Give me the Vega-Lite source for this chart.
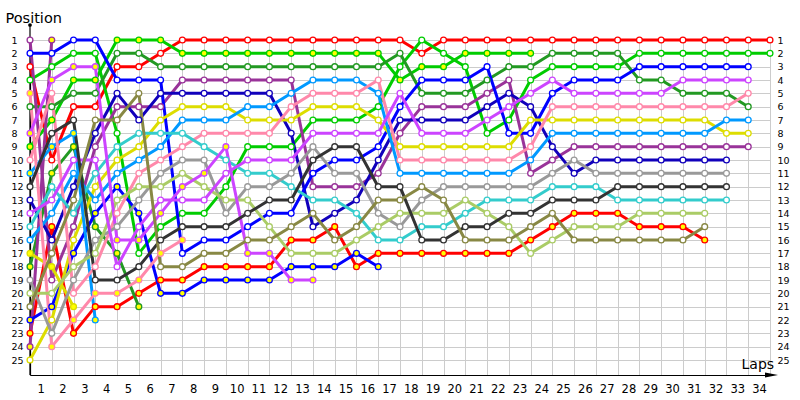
{
"$schema": "https://vega.github.io/schema/vega-lite/v6.json",
"width": 740, "height": 335,
"padding": {"left": 30, "top": 40, "right": 30, "bottom": 25},
"autosize": {"type": "none"},
"background": "white",
"config": {"view": {"stroke": null}, "font": "DejaVu Sans",
 "axis": {"labelOverlap": false},
 "axisX": {"labelOverlap": false, "labelBound": false, "labelFlush": false}},
"datasets": {"laps": [
{"d":"RW","l":0,"p":3},{"d":"RW","l":1,"p":10},{"d":"RW","l":2,"p":6},{"d":"RW","l":3,"p":6},{"d":"RW","l":4,"p":3},{"d":"RW","l":5,"p":3},{"d":"RW","l":6,"p":2},{"d":"RW","l":7,"p":1},{"d":"RW","l":8,"p":1},{"d":"RW","l":9,"p":1},{"d":"RW","l":10,"p":1},{"d":"RW","l":11,"p":1},{"d":"RW","l":12,"p":1},{"d":"RW","l":13,"p":1},{"d":"RW","l":14,"p":1},{"d":"RW","l":15,"p":1},{"d":"RW","l":16,"p":1},{"d":"RW","l":17,"p":1},{"d":"RW","l":18,"p":2},{"d":"RW","l":19,"p":1},{"d":"RW","l":20,"p":1},{"d":"RW","l":21,"p":1},{"d":"RW","l":22,"p":1},{"d":"RW","l":23,"p":1},{"d":"RW","l":24,"p":1},{"d":"RW","l":25,"p":1},{"d":"RW","l":26,"p":1},{"d":"RW","l":27,"p":1},{"d":"RW","l":28,"p":1},{"d":"RW","l":29,"p":1},{"d":"RW","l":30,"p":1},{"d":"RW","l":31,"p":1},{"d":"RW","l":32,"p":1},{"d":"RW","l":33,"p":1},{"d":"RW","l":34,"p":1},
{"d":"RY","l":0,"p":23},{"d":"RY","l":1,"p":15},{"d":"RY","l":2,"p":23},{"d":"RY","l":3,"p":21},{"d":"RY","l":4,"p":21},{"d":"RY","l":5,"p":20},{"d":"RY","l":6,"p":19},{"d":"RY","l":7,"p":19},{"d":"RY","l":8,"p":18},{"d":"RY","l":9,"p":18},{"d":"RY","l":10,"p":18},{"d":"RY","l":11,"p":18},{"d":"RY","l":12,"p":16},{"d":"RY","l":13,"p":16},{"d":"RY","l":14,"p":15},{"d":"RY","l":15,"p":18},{"d":"RY","l":16,"p":17},{"d":"RY","l":17,"p":17},{"d":"RY","l":18,"p":17},{"d":"RY","l":19,"p":17},{"d":"RY","l":20,"p":17},{"d":"RY","l":21,"p":17},{"d":"RY","l":22,"p":17},{"d":"RY","l":23,"p":16},{"d":"RY","l":24,"p":15},{"d":"RY","l":25,"p":14},{"d":"RY","l":26,"p":14},{"d":"RY","l":27,"p":14},{"d":"RY","l":28,"p":15},{"d":"RY","l":29,"p":15},{"d":"RY","l":30,"p":15},{"d":"RY","l":31,"p":16},
{"d":"GW","l":0,"p":4},{"d":"GW","l":1,"p":3},{"d":"GW","l":2,"p":2},{"d":"GW","l":3,"p":2},{"d":"GW","l":4,"p":8},{"d":"GW","l":5,"p":17},{"d":"GW","l":6,"p":15},{"d":"GW","l":7,"p":14},{"d":"GW","l":8,"p":14},{"d":"GW","l":9,"p":12},{"d":"GW","l":10,"p":9},{"d":"GW","l":11,"p":9},{"d":"GW","l":12,"p":9},{"d":"GW","l":13,"p":7},{"d":"GW","l":14,"p":7},{"d":"GW","l":15,"p":7},{"d":"GW","l":16,"p":6},{"d":"GW","l":17,"p":3},{"d":"GW","l":18,"p":1},{"d":"GW","l":19,"p":2},{"d":"GW","l":20,"p":3},{"d":"GW","l":21,"p":8},{"d":"GW","l":22,"p":7},{"d":"GW","l":23,"p":4},{"d":"GW","l":24,"p":3},{"d":"GW","l":25,"p":3},{"d":"GW","l":26,"p":3},{"d":"GW","l":27,"p":3},{"d":"GW","l":28,"p":2},{"d":"GW","l":29,"p":2},{"d":"GW","l":30,"p":2},{"d":"GW","l":31,"p":2},{"d":"GW","l":32,"p":2},{"d":"GW","l":33,"p":2},{"d":"GW","l":34,"p":2},
{"d":"GY","l":0,"p":9},{"d":"GY","l":1,"p":7},{"d":"GY","l":2,"p":4},{"d":"GY","l":3,"p":4},{"d":"GY","l":4,"p":1},{"d":"GY","l":5,"p":1},{"d":"GY","l":6,"p":1},{"d":"GY","l":7,"p":2},{"d":"GY","l":8,"p":2},{"d":"GY","l":9,"p":2},{"d":"GY","l":10,"p":2},{"d":"GY","l":11,"p":2},{"d":"GY","l":12,"p":2},{"d":"GY","l":13,"p":2},{"d":"GY","l":14,"p":2},{"d":"GY","l":15,"p":2},{"d":"GY","l":16,"p":2},{"d":"GY","l":17,"p":4},{"d":"GY","l":18,"p":3},{"d":"GY","l":19,"p":3},{"d":"GY","l":20,"p":2},{"d":"GY","l":21,"p":2},{"d":"GY","l":22,"p":2},{"d":"GY","l":23,"p":2},
{"d":"DW","l":0,"p":6},{"d":"DW","l":1,"p":6},{"d":"DW","l":2,"p":5},{"d":"DW","l":3,"p":5},{"d":"DW","l":4,"p":2},{"d":"DW","l":5,"p":2},{"d":"DW","l":6,"p":3},{"d":"DW","l":7,"p":3},{"d":"DW","l":8,"p":3},{"d":"DW","l":9,"p":3},{"d":"DW","l":10,"p":3},{"d":"DW","l":11,"p":3},{"d":"DW","l":12,"p":3},{"d":"DW","l":13,"p":3},{"d":"DW","l":14,"p":3},{"d":"DW","l":15,"p":3},{"d":"DW","l":16,"p":3},{"d":"DW","l":17,"p":2},{"d":"DW","l":18,"p":5},{"d":"DW","l":19,"p":5},{"d":"DW","l":20,"p":5},{"d":"DW","l":21,"p":4},{"d":"DW","l":22,"p":3},{"d":"DW","l":23,"p":3},{"d":"DW","l":24,"p":2},{"d":"DW","l":25,"p":2},{"d":"DW","l":26,"p":2},{"d":"DW","l":27,"p":2},{"d":"DW","l":28,"p":4},{"d":"DW","l":29,"p":4},{"d":"DW","l":30,"p":5},{"d":"DW","l":31,"p":5},{"d":"DW","l":32,"p":5},{"d":"DW","l":33,"p":6},
{"d":"DY","l":0,"p":18},{"d":"DY","l":1,"p":11},{"d":"DY","l":2,"p":9},{"d":"DY","l":3,"p":15},{"d":"DY","l":4,"p":17},{"d":"DY","l":5,"p":21},
{"d":"PW","l":0,"p":1},{"d":"PW","l":1,"p":19},{"d":"PW","l":2,"p":15},{"d":"PW","l":3,"p":9},{"d":"PW","l":4,"p":6},{"d":"PW","l":5,"p":6},{"d":"PW","l":6,"p":6},{"d":"PW","l":7,"p":4},{"d":"PW","l":8,"p":4},{"d":"PW","l":9,"p":4},{"d":"PW","l":10,"p":4},{"d":"PW","l":11,"p":4},{"d":"PW","l":12,"p":4},{"d":"PW","l":13,"p":12},{"d":"PW","l":14,"p":12},{"d":"PW","l":15,"p":12},{"d":"PW","l":16,"p":11},{"d":"PW","l":17,"p":8},{"d":"PW","l":18,"p":6},{"d":"PW","l":19,"p":6},{"d":"PW","l":20,"p":6},{"d":"PW","l":21,"p":5},{"d":"PW","l":22,"p":4},{"d":"PW","l":23,"p":11},{"d":"PW","l":24,"p":10},{"d":"PW","l":25,"p":9},{"d":"PW","l":26,"p":9},{"d":"PW","l":27,"p":9},{"d":"PW","l":28,"p":9},{"d":"PW","l":29,"p":9},{"d":"PW","l":30,"p":9},{"d":"PW","l":31,"p":9},{"d":"PW","l":32,"p":9},{"d":"PW","l":33,"p":9},
{"d":"PY","l":0,"p":24},{"d":"PY","l":1,"p":1},
{"d":"NW","l":0,"p":13},{"d":"NW","l":1,"p":16},{"d":"NW","l":2,"p":12},{"d":"NW","l":3,"p":8},{"d":"NW","l":4,"p":5},{"d":"NW","l":5,"p":7},{"d":"NW","l":6,"p":5},{"d":"NW","l":7,"p":5},{"d":"NW","l":8,"p":5},{"d":"NW","l":9,"p":5},{"d":"NW","l":10,"p":5},{"d":"NW","l":11,"p":5},{"d":"NW","l":12,"p":8},{"d":"NW","l":13,"p":15},{"d":"NW","l":14,"p":14},{"d":"NW","l":15,"p":13},{"d":"NW","l":16,"p":10},{"d":"NW","l":17,"p":7},{"d":"NW","l":18,"p":7},{"d":"NW","l":19,"p":7},{"d":"NW","l":20,"p":7},{"d":"NW","l":21,"p":6},{"d":"NW","l":22,"p":5},{"d":"NW","l":23,"p":6},{"d":"NW","l":24,"p":9},{"d":"NW","l":25,"p":11},{"d":"NW","l":26,"p":10},{"d":"NW","l":27,"p":10},{"d":"NW","l":28,"p":10},{"d":"NW","l":29,"p":10},{"d":"NW","l":30,"p":10},{"d":"NW","l":31,"p":10},{"d":"NW","l":32,"p":10},
{"d":"BW","l":0,"p":2},{"d":"BW","l":1,"p":2},{"d":"BW","l":2,"p":1},{"d":"BW","l":3,"p":1},{"d":"BW","l":4,"p":4},{"d":"BW","l":5,"p":4},{"d":"BW","l":6,"p":4},{"d":"BW","l":7,"p":17},{"d":"BW","l":8,"p":16},{"d":"BW","l":9,"p":16},{"d":"BW","l":10,"p":15},{"d":"BW","l":11,"p":14},{"d":"BW","l":12,"p":14},{"d":"BW","l":13,"p":11},{"d":"BW","l":14,"p":10},{"d":"BW","l":15,"p":10},{"d":"BW","l":16,"p":9},{"d":"BW","l":17,"p":6},{"d":"BW","l":18,"p":4},{"d":"BW","l":19,"p":4},{"d":"BW","l":20,"p":4},{"d":"BW","l":21,"p":3},{"d":"BW","l":22,"p":8},{"d":"BW","l":23,"p":8},{"d":"BW","l":24,"p":5},{"d":"BW","l":25,"p":4},{"d":"BW","l":26,"p":4},{"d":"BW","l":27,"p":4},{"d":"BW","l":28,"p":3},{"d":"BW","l":29,"p":3},{"d":"BW","l":30,"p":3},{"d":"BW","l":31,"p":3},{"d":"BW","l":32,"p":3},{"d":"BW","l":33,"p":3},
{"d":"BY","l":0,"p":22},{"d":"BY","l":1,"p":21},{"d":"BY","l":2,"p":17},{"d":"BY","l":3,"p":14},{"d":"BY","l":4,"p":12},{"d":"BY","l":5,"p":14},{"d":"BY","l":6,"p":20},{"d":"BY","l":7,"p":20},{"d":"BY","l":8,"p":19},{"d":"BY","l":9,"p":19},{"d":"BY","l":10,"p":19},{"d":"BY","l":11,"p":19},{"d":"BY","l":12,"p":18},{"d":"BY","l":13,"p":18},{"d":"BY","l":14,"p":18},{"d":"BY","l":15,"p":17},{"d":"BY","l":16,"p":18},
{"d":"YW","l":0,"p":25},{"d":"YW","l":1,"p":22},{"d":"YW","l":2,"p":16},{"d":"YW","l":3,"p":12},{"d":"YW","l":4,"p":10},{"d":"YW","l":5,"p":9},{"d":"YW","l":6,"p":7},{"d":"YW","l":7,"p":6},{"d":"YW","l":8,"p":6},{"d":"YW","l":9,"p":6},{"d":"YW","l":10,"p":7},{"d":"YW","l":11,"p":7},{"d":"YW","l":12,"p":7},{"d":"YW","l":13,"p":6},{"d":"YW","l":14,"p":6},{"d":"YW","l":15,"p":6},{"d":"YW","l":16,"p":7},{"d":"YW","l":17,"p":9},{"d":"YW","l":18,"p":9},{"d":"YW","l":19,"p":9},{"d":"YW","l":20,"p":9},{"d":"YW","l":21,"p":9},{"d":"YW","l":22,"p":9},{"d":"YW","l":23,"p":7},{"d":"YW","l":24,"p":7},{"d":"YW","l":25,"p":7},{"d":"YW","l":26,"p":7},{"d":"YW","l":27,"p":7},{"d":"YW","l":28,"p":7},{"d":"YW","l":29,"p":7},{"d":"YW","l":30,"p":7},{"d":"YW","l":31,"p":7},{"d":"YW","l":32,"p":8},{"d":"YW","l":33,"p":8},
{"d":"YY","l":0,"p":17},{"d":"YY","l":1,"p":18},{"d":"YY","l":2,"p":21},
{"d":"SW","l":0,"p":16},{"d":"SW","l":1,"p":14},{"d":"SW","l":2,"p":11},{"d":"SW","l":3,"p":13},{"d":"SW","l":4,"p":11},{"d":"SW","l":5,"p":10},{"d":"SW","l":6,"p":9},{"d":"SW","l":7,"p":7},{"d":"SW","l":8,"p":7},{"d":"SW","l":9,"p":7},{"d":"SW","l":10,"p":6},{"d":"SW","l":11,"p":6},{"d":"SW","l":12,"p":5},{"d":"SW","l":13,"p":4},{"d":"SW","l":14,"p":4},{"d":"SW","l":15,"p":4},{"d":"SW","l":16,"p":5},{"d":"SW","l":17,"p":11},{"d":"SW","l":18,"p":11},{"d":"SW","l":19,"p":11},{"d":"SW","l":20,"p":11},{"d":"SW","l":21,"p":11},{"d":"SW","l":22,"p":11},{"d":"SW","l":23,"p":10},{"d":"SW","l":24,"p":8},{"d":"SW","l":25,"p":8},{"d":"SW","l":26,"p":8},{"d":"SW","l":27,"p":8},{"d":"SW","l":28,"p":8},{"d":"SW","l":29,"p":8},{"d":"SW","l":30,"p":8},{"d":"SW","l":31,"p":8},{"d":"SW","l":32,"p":7},{"d":"SW","l":33,"p":7},
{"d":"SY","l":0,"p":11},{"d":"SY","l":1,"p":9},{"d":"SY","l":2,"p":8},{"d":"SY","l":3,"p":22},
{"d":"KW","l":0,"p":10},{"d":"KW","l":1,"p":5},{"d":"KW","l":2,"p":20},{"d":"KW","l":3,"p":18},{"d":"KW","l":4,"p":14},{"d":"KW","l":5,"p":11},{"d":"KW","l":6,"p":10},{"d":"KW","l":7,"p":9},{"d":"KW","l":8,"p":8},{"d":"KW","l":9,"p":8},{"d":"KW","l":10,"p":8},{"d":"KW","l":11,"p":8},{"d":"KW","l":12,"p":6},{"d":"KW","l":13,"p":5},{"d":"KW","l":14,"p":5},{"d":"KW","l":15,"p":5},{"d":"KW","l":16,"p":4},{"d":"KW","l":17,"p":10},{"d":"KW","l":18,"p":10},{"d":"KW","l":19,"p":10},{"d":"KW","l":20,"p":10},{"d":"KW","l":21,"p":10},{"d":"KW","l":22,"p":10},{"d":"KW","l":23,"p":9},{"d":"KW","l":24,"p":6},{"d":"KW","l":25,"p":6},{"d":"KW","l":26,"p":6},{"d":"KW","l":27,"p":6},{"d":"KW","l":28,"p":6},{"d":"KW","l":29,"p":6},{"d":"KW","l":30,"p":6},{"d":"KW","l":31,"p":6},{"d":"KW","l":32,"p":6},{"d":"KW","l":33,"p":5},
{"d":"KY","l":0,"p":5},{"d":"KY","l":1,"p":24},{"d":"KY","l":2,"p":22},{"d":"KY","l":3,"p":20},{"d":"KY","l":4,"p":20},{"d":"KY","l":5,"p":19},{"d":"KY","l":6,"p":17},{"d":"KY","l":7,"p":16},
{"d":"CW","l":0,"p":15},{"d":"CW","l":1,"p":12},{"d":"CW","l":2,"p":14},{"d":"CW","l":3,"p":11},{"d":"CW","l":4,"p":9},{"d":"CW","l":5,"p":8},{"d":"CW","l":6,"p":8},{"d":"CW","l":7,"p":8},{"d":"CW","l":8,"p":9},{"d":"CW","l":9,"p":10},{"d":"CW","l":10,"p":11},{"d":"CW","l":11,"p":11},{"d":"CW","l":12,"p":12},{"d":"CW","l":13,"p":13},{"d":"CW","l":14,"p":13},{"d":"CW","l":15,"p":14},{"d":"CW","l":16,"p":16},{"d":"CW","l":17,"p":16},{"d":"CW","l":18,"p":15},{"d":"CW","l":19,"p":15},{"d":"CW","l":20,"p":14},{"d":"CW","l":21,"p":13},{"d":"CW","l":22,"p":13},{"d":"CW","l":23,"p":13},{"d":"CW","l":24,"p":12},{"d":"CW","l":25,"p":12},{"d":"CW","l":26,"p":12},{"d":"CW","l":27,"p":13},{"d":"CW","l":28,"p":13},{"d":"CW","l":29,"p":13},{"d":"CW","l":30,"p":13},{"d":"CW","l":31,"p":13},{"d":"CW","l":32,"p":13},
{"d":"AW","l":0,"p":19},{"d":"AW","l":1,"p":23},{"d":"AW","l":2,"p":19},{"d":"AW","l":3,"p":16},{"d":"AW","l":4,"p":15},{"d":"AW","l":5,"p":13},{"d":"AW","l":6,"p":11},{"d":"AW","l":7,"p":10},{"d":"AW","l":8,"p":10},{"d":"AW","l":9,"p":14},{"d":"AW","l":10,"p":12},{"d":"AW","l":11,"p":12},{"d":"AW","l":12,"p":11},{"d":"AW","l":13,"p":9},{"d":"AW","l":14,"p":11},{"d":"AW","l":15,"p":11},{"d":"AW","l":16,"p":14},{"d":"AW","l":17,"p":15},{"d":"AW","l":18,"p":13},{"d":"AW","l":19,"p":12},{"d":"AW","l":20,"p":12},{"d":"AW","l":21,"p":12},{"d":"AW","l":22,"p":12},{"d":"AW","l":23,"p":12},{"d":"AW","l":24,"p":11},{"d":"AW","l":25,"p":10},{"d":"AW","l":26,"p":11},{"d":"AW","l":27,"p":11},{"d":"AW","l":28,"p":11},{"d":"AW","l":29,"p":11},{"d":"AW","l":30,"p":11},{"d":"AW","l":31,"p":11},{"d":"AW","l":32,"p":11},
{"d":"LW","l":0,"p":20},{"d":"LW","l":1,"p":20},{"d":"LW","l":2,"p":18},{"d":"LW","l":3,"p":17},{"d":"LW","l":4,"p":13},{"d":"LW","l":5,"p":12},{"d":"LW","l":6,"p":12},{"d":"LW","l":7,"p":11},{"d":"LW","l":8,"p":12},{"d":"LW","l":9,"p":13},{"d":"LW","l":10,"p":13},{"d":"LW","l":11,"p":15},{"d":"LW","l":12,"p":17},{"d":"LW","l":13,"p":17},{"d":"LW","l":14,"p":17},{"d":"LW","l":15,"p":16},{"d":"LW","l":16,"p":15},{"d":"LW","l":17,"p":14},{"d":"LW","l":18,"p":14},{"d":"LW","l":19,"p":14},{"d":"LW","l":20,"p":13},{"d":"LW","l":21,"p":14},{"d":"LW","l":22,"p":15},{"d":"LW","l":23,"p":17},{"d":"LW","l":24,"p":16},{"d":"LW","l":25,"p":15},{"d":"LW","l":26,"p":15},{"d":"LW","l":27,"p":15},{"d":"LW","l":28,"p":14},{"d":"LW","l":29,"p":14},{"d":"LW","l":30,"p":14},{"d":"LW","l":31,"p":14},
{"d":"VW","l":0,"p":14},{"d":"VW","l":1,"p":13},{"d":"VW","l":2,"p":10},{"d":"VW","l":3,"p":10},{"d":"VW","l":4,"p":18},{"d":"VW","l":5,"p":15},{"d":"VW","l":6,"p":13},{"d":"VW","l":7,"p":13},{"d":"VW","l":8,"p":13},{"d":"VW","l":9,"p":11},{"d":"VW","l":10,"p":10},{"d":"VW","l":11,"p":10},{"d":"VW","l":12,"p":10},{"d":"VW","l":13,"p":8},{"d":"VW","l":14,"p":8},{"d":"VW","l":15,"p":8},{"d":"VW","l":16,"p":8},{"d":"VW","l":17,"p":5},{"d":"VW","l":18,"p":8},{"d":"VW","l":19,"p":8},{"d":"VW","l":20,"p":8},{"d":"VW","l":21,"p":7},{"d":"VW","l":22,"p":6},{"d":"VW","l":23,"p":5},{"d":"VW","l":24,"p":4},{"d":"VW","l":25,"p":5},{"d":"VW","l":26,"p":5},{"d":"VW","l":27,"p":5},{"d":"VW","l":28,"p":5},{"d":"VW","l":29,"p":5},{"d":"VW","l":30,"p":4},{"d":"VW","l":31,"p":4},{"d":"VW","l":32,"p":4},{"d":"VW","l":33,"p":4},
{"d":"VY","l":0,"p":8},{"d":"VY","l":1,"p":4},{"d":"VY","l":2,"p":3},{"d":"VY","l":3,"p":3},{"d":"VY","l":4,"p":16},{"d":"VY","l":5,"p":16},{"d":"VY","l":6,"p":14},{"d":"VY","l":7,"p":12},{"d":"VY","l":8,"p":11},{"d":"VY","l":9,"p":9},{"d":"VY","l":10,"p":17},{"d":"VY","l":11,"p":17},{"d":"VY","l":12,"p":19},{"d":"VY","l":13,"p":19},
{"d":"XW","l":0,"p":12},{"d":"XW","l":1,"p":8},{"d":"XW","l":2,"p":7},{"d":"XW","l":3,"p":19},{"d":"XW","l":4,"p":19},{"d":"XW","l":5,"p":18},{"d":"XW","l":6,"p":16},{"d":"XW","l":7,"p":15},{"d":"XW","l":8,"p":15},{"d":"XW","l":9,"p":15},{"d":"XW","l":10,"p":14},{"d":"XW","l":11,"p":13},{"d":"XW","l":12,"p":13},{"d":"XW","l":13,"p":10},{"d":"XW","l":14,"p":9},{"d":"XW","l":15,"p":9},{"d":"XW","l":16,"p":12},{"d":"XW","l":17,"p":12},{"d":"XW","l":18,"p":16},{"d":"XW","l":19,"p":16},{"d":"XW","l":20,"p":15},{"d":"XW","l":21,"p":15},{"d":"XW","l":22,"p":14},{"d":"XW","l":23,"p":14},{"d":"XW","l":24,"p":13},{"d":"XW","l":25,"p":13},{"d":"XW","l":26,"p":13},{"d":"XW","l":27,"p":12},{"d":"XW","l":28,"p":12},{"d":"XW","l":29,"p":12},{"d":"XW","l":30,"p":12},{"d":"XW","l":31,"p":12},{"d":"XW","l":32,"p":12},
{"d":"OW","l":0,"p":21},{"d":"OW","l":1,"p":17},{"d":"OW","l":2,"p":13},{"d":"OW","l":3,"p":7},{"d":"OW","l":4,"p":7},{"d":"OW","l":5,"p":5},{"d":"OW","l":6,"p":18},{"d":"OW","l":7,"p":18},{"d":"OW","l":8,"p":17},{"d":"OW","l":9,"p":17},{"d":"OW","l":10,"p":16},{"d":"OW","l":11,"p":16},{"d":"OW","l":12,"p":15},{"d":"OW","l":13,"p":14},{"d":"OW","l":14,"p":16},{"d":"OW","l":15,"p":15},{"d":"OW","l":16,"p":13},{"d":"OW","l":17,"p":13},{"d":"OW","l":18,"p":12},{"d":"OW","l":19,"p":13},{"d":"OW","l":20,"p":16},{"d":"OW","l":21,"p":16},{"d":"OW","l":22,"p":16},{"d":"OW","l":23,"p":15},{"d":"OW","l":24,"p":14},{"d":"OW","l":25,"p":16},{"d":"OW","l":26,"p":16},{"d":"OW","l":27,"p":16},{"d":"OW","l":28,"p":16},{"d":"OW","l":29,"p":16},{"d":"OW","l":30,"p":16},{"d":"OW","l":31,"p":15}
]},
"data": {"name": "laps"},
"encoding": {
 "x": {"field": "l", "type": "quantitative",
  "scale": {"domain": [0, 34], "nice": false, "zero": false},
  "axis": {"orient": "bottom", "values": [0,1,2,3,4,5,6,7,8,9,10,11,12,13,14,15,16,17,18,19,20,21,22,23,24,25,26,27,28,29,30,31,32,33,34],
   "grid": true, "gridColor": "#cccccc", "gridWidth": 1, "ticks": false,
   "labelExpr": "datum.value == 0 ? '' : datum.label", "labelOffset": -11, "labelPadding": 8,
   "labelFontSize": 11.5, "labelColor": "black", "labelFont": "DejaVu Sans", "labelOverlap": false, "labelBound": false, "labelFlush": false, "labelSeparation": 0,
   "domain": true, "domainColor": "black", "domainWidth": 1.2,
   "title": "Laps", "titleX": 711, "titleY": -7, "titleAlign": "left", "titleBaseline": "alphabetic",
   "titleFontSize": 14, "titleFontWeight": "normal", "titleColor": "black", "titleFont": "DejaVu Sans"}}
},
"layer": [
{
 "transform": [{"filter": "datum.d == 'RW' && datum.l == 0"}],
 "mark": {"type": "rule", "color": "black", "strokeWidth": 1.2, "clip": false},
 "encoding": {"y": {"datum": -0.125, "type": "quantitative", "axis": null}, "y2": {"datum": 26.125}}
},
{
 "transform": [{"filter": "datum.d == 'RW' && datum.l == 0"}],
 "mark": {"type": "point", "filled": true, "color": "black", "size": 14, "opacity": 1, "clip": false},
 "encoding": {"y": {"datum": -0.125, "type": "quantitative", "axis": null}}
},
{
 "transform": [{"filter": "datum.d == 'RW' && datum.l == 34"}],
 "mark": {"type": "point", "filled": true, "color": "black", "opacity": 1, "size": 169, "shape": "M -1 -0.4 L 1 0 L -1 0.4 Z", "xOffset": 1.5, "clip": false},
 "encoding": {"y": {"datum": 26.125, "type": "quantitative", "axis": null}}
},
{
 "mark": {"type": "line", "strokeWidth": 3, "strokeJoin": "round"},
 "encoding": {
  "y": {"field": "p", "type": "quantitative",
   "scale": {"domain": [1, 26.125], "nice": false, "zero": false, "reverse": true},
   "axis": {"orient": "left", "values": [1,2,3,4,5,6,7,8,9,10,11,12,13,14,15,16,17,18,19,20,21,22,23,24,25],
    "grid": true, "gridColor": "#cccccc", "gridWidth": 1, "ticks": false,
    "labelAlign": "left", "labelPadding": 19, "labelFontSize": 9.5, "labelColor": "black", "labelFont": "DejaVu Sans",
    "domainColor": "black", "domainWidth": 1.2, "labelOverlap": false,
    "title": "Position", "titleAngle": 0, "titleX": -25, "titleY": -18, "titleAlign": "left", "titleBaseline": "alphabetic",
    "titleFontSize": 14.5, "titleFontWeight": "normal", "titleColor": "black", "titleFont": "DejaVu Sans"}},
  "color": {"field": "d", "type": "nominal", "legend": null,
   "scale": {"domain": ["RW","RY","GW","GY","DW","DY","PW","PY","NW","BW","BY","YW","YY","SW","SY","KW","KY","CW","AW","LW","VW","VY","XW","OW"],
    "range": ["#ff0000","#ff0000","#00cc00","#00cc00","#229922","#229922","#993399","#993399","#1100bb","#0000ff","#0000ff","#dddd00","#dddd00","#0099ff","#0099ff","#ff88aa","#ff88aa","#33cccc","#999999","#aacc66","#cc44ff","#cc44ff","#333333","#888844"]}},
  "order": {"field": "l", "type": "quantitative"}
 }
},
{
 "mark": {"type": "circle", "size": 34, "strokeWidth": 1.3, "opacity": 1},
 "encoding": {
  "y": {"field": "p", "type": "quantitative",
   "scale": {"domain": [1, 26.125], "nice": false, "zero": false, "reverse": true},
   "axis": {"orient": "right", "values": [1,2,3,4,5,6,7,8,9,10,11,12,13,14,15,16,17,18,19,20,21,22,23,24,25],
    "grid": false, "ticks": false, "domain": false, "labelAlign": "left", "labelPadding": 7,
    "labelFontSize": 9.5, "labelColor": "black", "labelFont": "DejaVu Sans", "labelOverlap": false, "title": null}},
  "stroke": {"field": "d", "type": "nominal", "legend": null,
   "scale": {"domain": ["RW","RY","GW","GY","DW","DY","PW","PY","NW","BW","BY","YW","YY","SW","SY","KW","KY","CW","AW","LW","VW","VY","XW","OW"],
    "range": ["#ff0000","#ff0000","#00cc00","#00cc00","#229922","#229922","#993399","#993399","#1100bb","#0000ff","#0000ff","#dddd00","#dddd00","#0099ff","#0099ff","#ff88aa","#ff88aa","#33cccc","#999999","#aacc66","#cc44ff","#cc44ff","#333333","#888844"]}},
  "fill": {"field": "d", "type": "nominal", "legend": null,
   "scale": {"domain": ["RW","RY","GW","GY","DW","DY","PW","PY","NW","BW","BY","YW","YY","SW","SY","KW","KY","CW","AW","LW","VW","VY","XW","OW"],
    "range": ["#ffffff","#ffff00","#ffffff","#ffff00","#ffffff","#ffff00","#ffffff","#ffff00","#ffffff","#ffffff","#ffff00","#ffffff","#ffff00","#ffffff","#ffff00","#ffffff","#ffff00","#ffffff","#ffffff","#ffffff","#ffffff","#ffff00","#ffffff","#ffffff"]}}
 }
}
]
}
